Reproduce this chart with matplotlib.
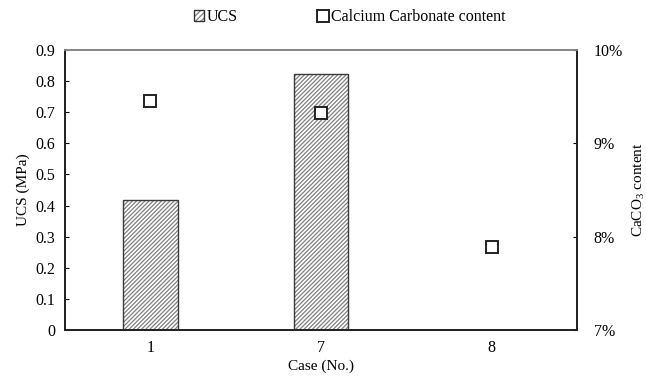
import matplotlib
matplotlib.use("Agg")
import matplotlib.pyplot as plt
from matplotlib.ticker import FuncFormatter
from matplotlib.lines import Line2D
from matplotlib.patches import Patch
from matplotlib.legend_handler import HandlerTuple
import numpy as np

plt.rcParams['font.family'] = ['Liberation Serif', 'DejaVu Serif']
plt.rcParams['mathtext.fontset'] = 'custom'
plt.rcParams['mathtext.rm'] = 'Liberation Serif'
plt.rcParams['mathtext.default'] = 'regular'
plt.rcParams['hatch.linewidth'] = 0.9

# data
cases = ["1", "7", "8"]
ucs = [0.418, 0.823, 0.0]
caco3 = [0.0945, 0.0933, 0.0789]

fig = plt.figure(figsize=(6.46, 3.8), dpi=100)
ax = fig.add_axes([0.1006, 0.1316, 0.7926, 0.7368])
x = np.arange(len(cases))
w = 0.32
ucs_arr = np.array(ucs)

# hatched fill in grey, then a dark outline on top
ax.bar(x, ucs, width=w, color='white', edgecolor='#808080', hatch='////////', linewidth=0, zorder=2)
ax.bar(x[ucs_arr > 0], ucs_arr[ucs_arr > 0], width=w, facecolor='none',
       edgecolor='#3a3a3a', linewidth=1.0, zorder=3)

ax.set_xlim(-0.5, 2.5)
ax.set_ylim(0, 0.9)
ax.set_yticks(np.arange(0, 0.91, 0.1))
ax.yaxis.set_major_formatter(FuncFormatter(lambda v, p: "0" if v == 0 else f"{v:.1f}"))
ax.set_xticks(x)
ax.set_xticklabels(cases)
ax.tick_params(axis='x', length=0, labelsize=11.5, pad=7)
ax.tick_params(axis='y', direction='in', length=3, labelsize=11.5, pad=7)
ax.set_xlabel("Case (No.)", fontsize=11, labelpad=3)
ax.set_ylabel("UCS (MPa)", fontsize=11, labelpad=4)

ax2 = ax.twinx()
ax2.plot(x, caco3, linestyle='none', marker='s', markersize=9, markerfacecolor='white',
         markeredgecolor='#222222', markeredgewidth=1.4, zorder=5)
ax2.set_ylim(0.07, 0.10)
ax2.set_yticks([0.07, 0.08, 0.09, 0.10])
ax2.yaxis.set_major_formatter(FuncFormatter(lambda v, p: f"{v*100:.0f}%"))
ax2.tick_params(axis='y', direction='in', length=3, labelsize=11.5, pad=12)
ax2.set_ylabel("CaCO$_3$ content", fontsize=11, labelpad=6)

for a in (ax, ax2):
    for s in ('left', 'right', 'bottom'):
        a.spines[s].set_color('#222222')
        a.spines[s].set_linewidth(1.3)
    a.spines['top'].set_color('#888888')
    a.spines['top'].set_linewidth(1.3)

h_fill = Patch(facecolor='white', edgecolor='#808080', hatch='//////', linewidth=0)
h_edge = Patch(facecolor='none', edgecolor='#333333', linewidth=1.0)
h_sq = Line2D([], [], linestyle='none', marker='s', markersize=9, markerfacecolor='white',
              markeredgecolor='#222222', markeredgewidth=1.4)
fig.legend([(h_fill, h_edge), h_sq], ["UCS", "Calcium Carbonate content"],
           handler_map={tuple: HandlerTuple(ndivide=1)},
           loc='center', bbox_to_anchor=(0.5415, 0.955), ncol=2, frameon=False,
           fontsize=11.5, handlelength=0.6, handleheight=0.6, handletextpad=0.2,
           columnspacing=5.0)

fig.savefig("out.png", dpi=100)
